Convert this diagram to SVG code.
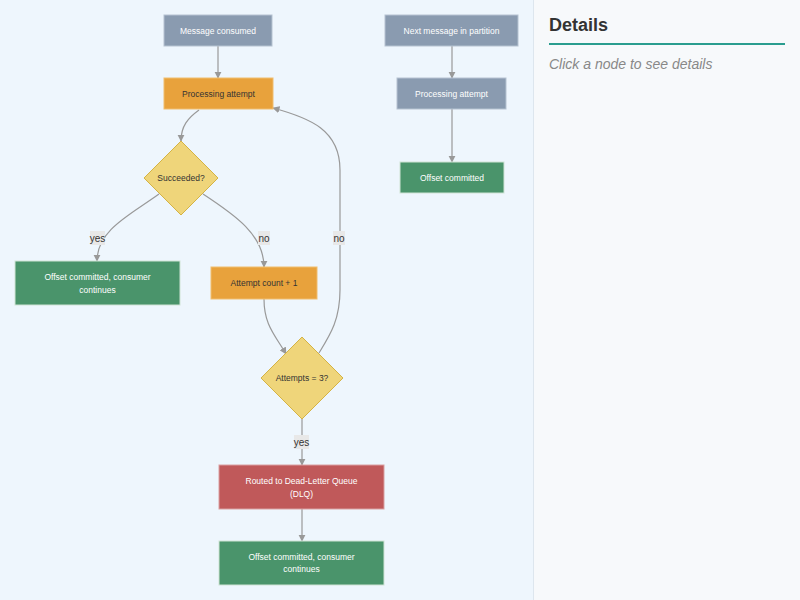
<svg xmlns="http://www.w3.org/2000/svg" width="800" height="600" viewBox="0 0 800 600">
<defs>
<style>
.gray{fill:#8a9bb0;stroke:#b5c2d1;stroke-width:1}
.orange{fill:#e8a23c;stroke:#f0bd6e;stroke-width:1}
.green{fill:#4a946b;stroke:#cfe3d6;stroke-width:1}
.red{fill:#c0595a;stroke:#d9a0a1;stroke-width:1}
.dia{fill:#efd57a;stroke:#d4b344;stroke-width:1}
.t{font-family:"Liberation Sans",Arial,sans-serif;font-size:8.5px;text-anchor:middle;fill:#ffffff}
.td{font-family:"Liberation Sans",Arial,sans-serif;font-size:8.5px;text-anchor:middle;fill:#333333}
.e{fill:none;stroke:#999999;stroke-width:1.2}
.lb{fill:#e8e8e8}
.lt{font-family:"Liberation Sans",Arial,sans-serif;font-size:10px;text-anchor:middle;fill:#333333}
</style>
<marker id="ah" viewBox="0 0 10 10" refX="9" refY="5" markerWidth="6" markerHeight="6" orient="auto">
<path d="M0,0 L10,5 L0,10 z" fill="#999999"/>
</marker>
</defs>
<rect x="0" y="0" width="533" height="600" fill="#eef6fd"/>
<rect x="533" y="0" width="267" height="600" fill="#f7f9fb"/>
<line x1="533.5" y1="0" x2="533.5" y2="600" stroke="#dde6ee" stroke-width="1"/>

<g id="connectors">
<path class="e" marker-end="url(#ah)" d="M218,46 L218,78"/>
<path class="e" marker-end="url(#ah)" d="M199,110 C188,118 181,126 181,141"/>
<path class="e" marker-end="url(#ah)" d="M159,194 C130,215 97,230 97,261"/>
<path class="e" marker-end="url(#ah)" d="M203,194 C235,215 264,235 264,267"/>
<path class="e" marker-end="url(#ah)" d="M264,299 C264,325 275,335 286,354"/>
<path class="e" marker-end="url(#ah)" d="M319,353 C330,335 340,320 340,290 L340,170 C340,130 310,118 273,108"/>
<path class="e" marker-end="url(#ah)" d="M302,418 L302,465"/>
<path class="e" marker-end="url(#ah)" d="M302,509 L302,541"/>
<path class="e" marker-end="url(#ah)" d="M452,46 L452,78"/>
<path class="e" marker-end="url(#ah)" d="M452,109 L452,162"/>
<rect class="lb" x="90" y="231" width="15" height="14"/>
<text class="lt" x="97.5" y="241.5">yes</text>
<rect class="lb" x="258" y="231" width="12" height="14"/>
<text class="lt" x="264" y="241.5">no</text>
<rect class="lb" x="333" y="231" width="12" height="14"/>
<text class="lt" x="339" y="241.5">no</text>
<rect class="lb" x="294" y="435" width="15" height="14"/>
<text class="lt" x="301.5" y="445.5">yes</text>
</g>

<g id="n-consumed">
<rect class="gray" x="164" y="15" width="108" height="31"/>
<text class="t" x="218" y="33.5">Message consumed</text>
</g>
<g id="n-attempt">
<rect class="orange" x="164" y="78" width="109" height="31"/>
<text class="td" x="218.5" y="96.5">Processing attempt</text>
</g>
<g id="n-succeeded">
<polygon class="dia" points="181,141 218,178 181,215 144,178"/>
<text class="td" x="181" y="181">Succeeded?</text>
</g>
<g id="n-ok">
<rect class="green" x="15" y="261" width="165" height="44"/>
<text class="t" x="97.5" y="280">Offset committed, consumer</text>
<text class="t" x="97.5" y="293">continues</text>
</g>
<g id="n-count">
<rect class="orange" x="211" y="267" width="106" height="32"/>
<text class="td" x="264" y="286">Attempt count + 1</text>
</g>
<g id="n-attempts3">
<polygon class="dia" points="302,337 343,378 302,419 261,378"/>
<text class="td" x="302" y="381">Attempts = 3?</text>
</g>
<g id="n-dlq">
<rect class="red" x="219" y="465" width="165" height="44"/>
<text class="t" x="301.5" y="484">Routed to Dead-Letter Queue</text>
<text class="t" x="301.5" y="497">(DLQ)</text>
</g>
<g id="n-ok2">
<rect class="green" x="219" y="541" width="165" height="44"/>
<text class="t" x="301.5" y="560">Offset committed, consumer</text>
<text class="t" x="301.5" y="572">continues</text>
</g>
<g id="n-next">
<rect class="gray" x="385" y="15" width="133" height="31"/>
<text class="t" x="451.5" y="33.5">Next message in partition</text>
</g>
<g id="n-attempt2">
<rect class="gray" x="397" y="78" width="109" height="31"/>
<text class="t" x="451.5" y="96.5">Processing attempt</text>
</g>
<g id="n-committed">
<rect class="green" x="400" y="162" width="104" height="31"/>
<text class="t" x="452" y="180.5">Offset committed</text>
</g>

<g id="details">
<text x="549" y="31" font-family="Liberation Sans,Arial,sans-serif" font-size="18" font-weight="bold" fill="#333333">Details</text>
<line x1="549" y1="44" x2="785" y2="44" stroke="#2a9d8f" stroke-width="2"/>
<text x="549" y="69" font-family="Liberation Sans,Arial,sans-serif" font-size="14" font-style="italic" fill="#888888">Click a node to see details</text>
</g>
</svg>
